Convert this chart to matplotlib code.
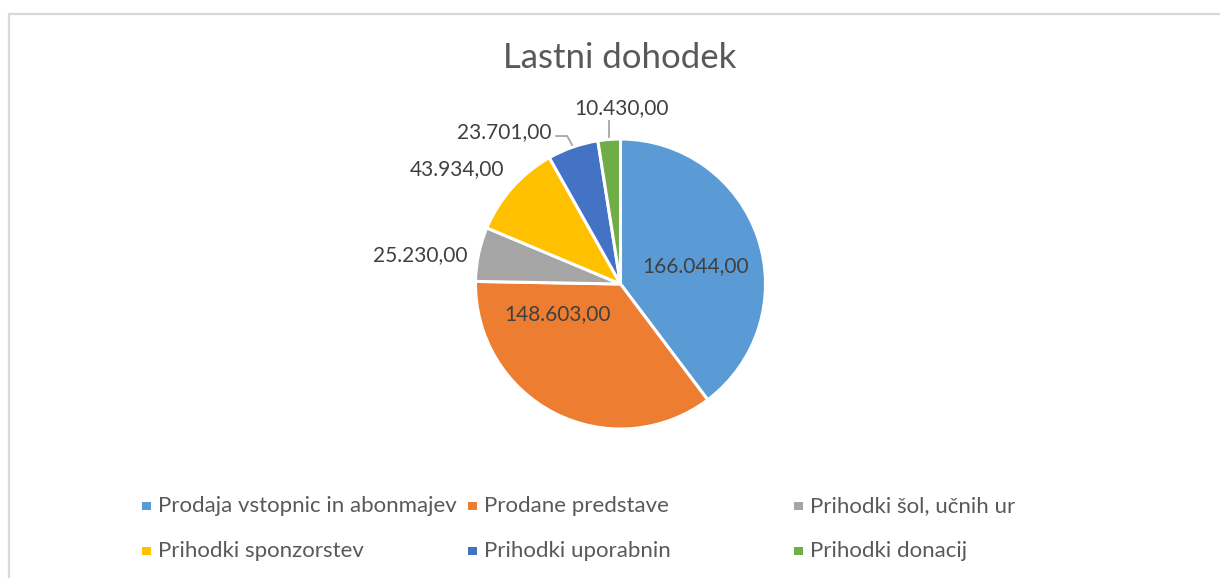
import numpy as np
import matplotlib
matplotlib.use("Agg")
import matplotlib.pyplot as plt
from matplotlib.patches import Rectangle

categories = ["Prodaja vstopnic in abonmajev", "Prodane predstave", "Prihodki šol, učnih ur",
              "Prihodki sponzorstev", "Prihodki uporabnin", "Prihodki donacij"]
values = [166044, 148603, 25230, 43934, 23701, 10430]
colors = ["#5B9BD5", "#ED7D31", "#A5A5A5", "#FFC000", "#4472C4", "#70AD47"]
title = "Lastni dohodek"

W, H = 1220, 578
plt.rcParams['font.family'] = ['Lato', 'DejaVu Sans']
fig = plt.figure(figsize=(W / 100, H / 100), dpi=100)

def fx(x):
    return x / W

def fy(y):
    return 1 - y / H

# chart border (top and left visible)
fig.patches.append(Rectangle((fx(9), fy(600)), fx(1300), fy(14) - fy(600), transform=fig.transFigure,
                             fill=False, edgecolor="#D9D9D9", linewidth=1.6))

cx, cy, R = 620.5, 284, 145
half = 150
ax = fig.add_axes([fx(cx - half), fy(cy + half), half * 2 / W, half * 2 / H])
wedges, _ = ax.pie(values, colors=colors, startangle=90, counterclock=False, radius=1,
                   wedgeprops=dict(edgecolor="white", linewidth=2.2))
lim = half / R
ax.set_xlim(-lim, lim)
ax.set_ylim(-lim, lim)
ax.set_aspect("equal")
ax.axis("off")

fig.text(fx(620), fy(58), title, ha="center", va="center", fontsize=25, color="#595959")

def fmt(v):
    s = f"{v:,.2f}"
    return s.replace(",", "X").replace(".", ",").replace("X", ".")

# label placement: anchor radius factor (fraction of R) and pixel shift of the label centre (y up)
label_rf = [0.53, 0.50, 1.0, 1.0, 1.0, 1.0]
label_shift = [(2, -6), (-30, 34), (-58, -1), (-55, 18), (-69, 15), (12, 31)]
for i, (w, v) in enumerate(zip(wedges, values)):
    ang = np.deg2rad((w.theta1 + w.theta2) / 2)
    rf = label_rf[i]
    x, y = rf * np.cos(ang), rf * np.sin(ang)
    dx, dy = label_shift[i]
    ax.annotate(fmt(v), (x, y), xytext=(dx * 0.72, dy * 0.72), textcoords="offset points",
                ha="center", va="center", fontsize=15, color="#404040", annotation_clip=False)

# leader lines for the two smallest top slices
for i in (4, 5):
    w = wedges[i]
    ang = np.deg2rad((w.theta1 + w.theta2) / 2)
    x, y = np.cos(ang) * 1.015, np.sin(ang) * 1.015
    if i == 4:
        pts = [(x, y), (x - 0.034, y + 0.062), (x - 0.11, y + 0.062)]
    else:
        pts = [(x, y), (x, y + 0.11)]
    xs, ys = zip(*pts)
    ax.plot(xs, ys, color="#A6A6A6", lw=1.3, clip_on=False)

# legend (fixed-width columns as in the original)
col_x = [142, 468, 794]
row_y = [506, 551]
for k in range(len(categories)):
    r, c = divmod(k, 3)
    x0, y0 = col_x[c], row_y[r]
    fig.patches.append(Rectangle((fx(x0), fy(y0 + 4)), fx(8.5), fy(y0 - 4.5) - fy(y0 + 4),
                                 transform=fig.transFigure, facecolor=colors[k], edgecolor="none"))
    fig.text(fx(x0 + 16), fy(y0), categories[k], ha="left", va="center", fontsize=16, color="#595959")

fig.savefig("out.png", dpi=100)
